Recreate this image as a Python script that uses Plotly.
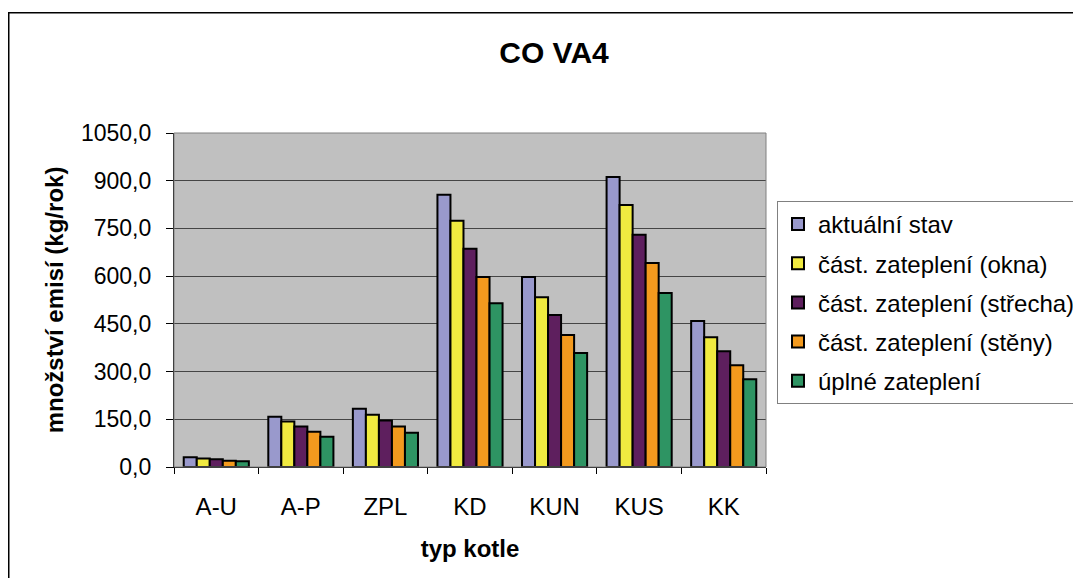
import plotly.graph_objects as go

categories = ["A-U", "A-P", "ZPL", "KD", "KUN", "KUS", "KK"]
series_names = [
    "aktuální stav",
    "část. zateplení (okna)",
    "část. zateplení (střecha)",
    "část. zateplení (stěny)",
    "úplné zateplení",
]
aktualni_stav = [31, 158, 183, 856, 597, 912, 459]
zatepleni_okna = [27, 143, 164, 774, 534, 824, 408]
zatepleni_strecha = [24, 127, 146, 686, 478, 730, 364]
zatepleni_steny = [20, 111, 127, 597, 415, 641, 320]
uplne_zatepleni = [18, 95, 108, 515, 358, 547, 276]
y_ticks = [0, 150, 300, 450, 600, 750, 900, 1050]

series_values = [aktualni_stav, zatepleni_okna, zatepleni_strecha, zatepleni_steny, uplne_zatepleni]
colors = ["#9999CC", "#F0EA40", "#5E1F5E", "#F39A1E", "#2E9463"]

FONT = "Liberation Sans, Arial, sans-serif"
FS = 24

fig = go.Figure()
for i, (name, vals, col) in enumerate(zip(series_names, series_values, colors)):
    fig.add_trace(go.Bar(
        x=categories, y=vals, name=name, legendgroup=f"g{i}",
        marker=dict(color=col, line=dict(color="black", width=2)),
    ))

# page has an 8px body margin; figure coordinates = page coordinates - 8
OFF = 8
W, H = 1072, 570
L, R, T, B = 174 - OFF, 766 - OFF, 133 - OFF, 467.5 - OFF
pw, ph = R - L, B - T

def px(x):
    return (x - OFF - L) / pw

def py(y):
    return (B - (y - OFF)) / ph

fig.update_layout(
    width=W, height=H,
    margin=dict(l=L, r=W - R, t=T, b=H - B, autoexpand=False),
    paper_bgcolor="white",
    plot_bgcolor="#C0C0C0",
    barmode="group",
    bargap=0.23,
    bargroupgap=0,
    separators=", ",
    font=dict(family=FONT, size=FS, color="black"),
    title=dict(text="<b>CO VA4</b>", x=(554 - OFF) / W, xref="container", xanchor="center",
               y=1 - (52 - OFF) / H, yref="container", yanchor="middle",
               font=dict(size=30, family=FONT, color="black")),
    legend=dict(
        x=px(777), y=py(201), xanchor="left", yanchor="top",
        bgcolor="white", bordercolor="#808080", borderwidth=1,
        font=dict(size=FS, family=FONT), tracegroupgap=5, itemwidth=30,
        traceorder="grouped",
    ),
    xaxis=dict(
        showgrid=False, showline=True, linecolor="black", linewidth=1.2,
        ticks="outside", tickson="boundaries", ticklen=6, tickcolor="black",
        ticklabelstandoff=18, automargin=False,
        title=dict(text="<b>typ kotle</b>", standoff=21, font=dict(size=FS, family=FONT)),
        tickfont=dict(size=FS, family=FONT),
    ),
    yaxis=dict(
        range=[0, 1050], tickvals=y_ticks, tickformat=".1f",
        showgrid=True, gridcolor="#454545", gridwidth=1,
        showline=True, linecolor="black", linewidth=1.2,
        ticks="outside", ticklen=7, tickcolor="black",
        ticklabelstandoff=10, zeroline=False, automargin=False,
        title=dict(text="<b>množství emisí (kg/rok)</b>", standoff=10, font=dict(size=FS, family=FONT)),
        tickfont=dict(size=23, family=FONT),
    ),
    shapes=[
        dict(type="rect", xref="paper", yref="paper", x0=0, x1=1, y0=0, y1=1,
             line=dict(color="#808080", width=1), layer="above"),
        dict(type="rect", xref="paper", yref="paper",
             x0=(0.75 - L) / pw, x1=(W + 50 - L) / pw,
             y0=(B - (H + 50)) / ph, y1=(B - 4.5) / ph,
             line=dict(color="black", width=1.5), layer="above"),
    ],
)

fig.write_html("out.html")
